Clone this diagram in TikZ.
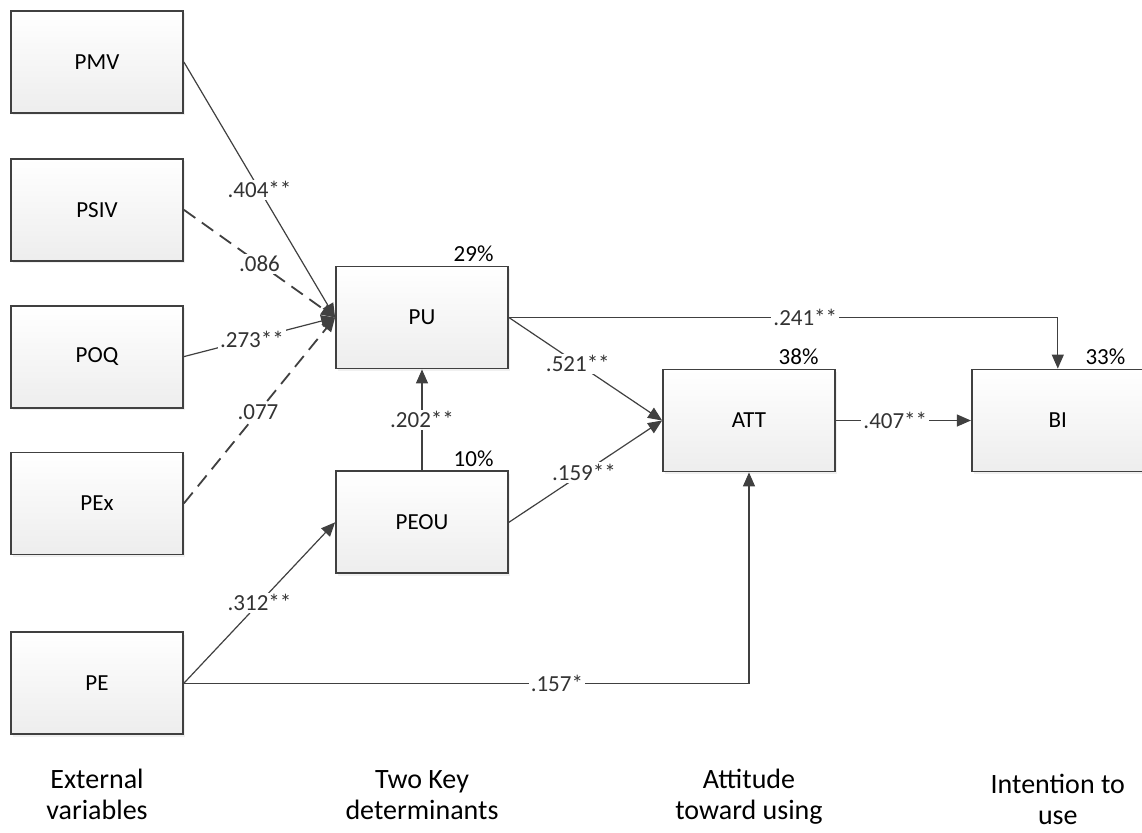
\documentclass[tikz,border=0pt]{standalone}
\usepackage{fontspec}
\setmainfont{Carlito}
\usetikzlibrary{arrows.meta,positioning,shadows}
\definecolor{linegray}{rgb}{0.25,0.25,0.25}
\begin{document}
\begin{tikzpicture}[x=0.5pt,y=-0.5pt,font=\fontsize{11.5}{13}\selectfont,
   >={Triangle[length=7pt,width=6pt]},
   box/.style={draw=linegray,line width=0.9pt,minimum width=86pt,minimum height=51pt,
               top color=white,bottom color=gray!14,
               drop shadow={shadow xshift=1.2pt,shadow yshift=-1.2pt,opacity=0.12}},
   conn/.style={->,draw=linegray,line width=0.6pt},
   dconn/.style={conn,line width=0.9pt,dash pattern=on 7pt off 4pt},
   lbl/.style={fill=white,inner sep=1pt,text=linegray!80!black},
   pct/.style={anchor=base east,inner sep=0pt},
   stage/.style={align=center,font=\fontsize{14}{15.5}\selectfont}]
  \useasboundingbox (0,0) rectangle (1142,832);
  % external variables
  \node[box] (pmv) at (97,62) {PMV};
  \node[box,below=22pt of pmv] (psiv) {PSIV};
  \node[box,below=21.5pt of psiv] (poq) {POQ};
  \node[box,below=21.5pt of poq] (pex) {PEx};
  \node[box,below=38pt of pex] (pe) {PE};
  % determinants, attitude, intention
  \node[box] (pu) at (422,317.5) {PU};
  \node[box,below=50.5pt of pu] (peou) {PEOU};
  \node[box] (att) at (749,420.5) {ATT};
  \node[box,right=67.5pt of att] (bi) {BI};
  \node[pct] at ([xshift=-7.5pt,yshift=2pt]pu.north east) {29\%};
  \node[pct] at ([xshift=-7.5pt,yshift=2pt]peou.north east) {10\%};
  \node[pct] at ([xshift=-8.5pt,yshift=2pt]att.north east) {38\%};
  \node[pct] at ([xshift=-9.5pt,yshift=2pt]bi.north east) {33\%};
  % paths
  \draw[conn] (pmv.east) -- node[lbl,pos=0.5] {.404**} (pu.west);
  \draw[dconn] (psiv.east) -- node[lbl,pos=0.5] {.086} (pu.west);
  \draw[conn] (poq.east) -- node[lbl,pos=0.45] {.273**} (pu.west);
  \draw[dconn] (pex.east) -- node[lbl,pos=0.49] {.077} (pu.west);
  \draw[conn] (pe.east) -- node[lbl,pos=0.5] {.312**} (peou.west);
  \draw[conn] (peou.north) -- node[lbl,pos=0.5] {.202**} (pu.south);
  \draw[conn] (pu.east) -- node[lbl,pos=0.45] {.521**} (att.west);
  \draw[conn] (peou.east) -- node[lbl,pos=0.49] {.159**} (att.west);
  \draw[conn] (pu.east) -| node[lbl,pos=0.27] {.241**} (bi.north);
  \draw[conn] (att.east) -- node[lbl,pos=0.44] {.407**} (bi.west);
  \draw[conn] (pe.east) -| node[lbl,pos=0.33] {.157*} (att.south);
  % stage captions
  \node[stage,below=13.5pt of pe] (ext) {External\\variables};
  \node[stage,anchor=base] (two) at (pu |- ext.base) {Two Key\\determinants};
  \node[stage,anchor=base] (attl) at (att |- ext.base) {Attitude\\toward using};
  \node[stage,anchor=base] (intl) at ([yshift=-2.5pt]bi |- ext.base) {Intention to\\use};
\end{tikzpicture}
\end{document}
